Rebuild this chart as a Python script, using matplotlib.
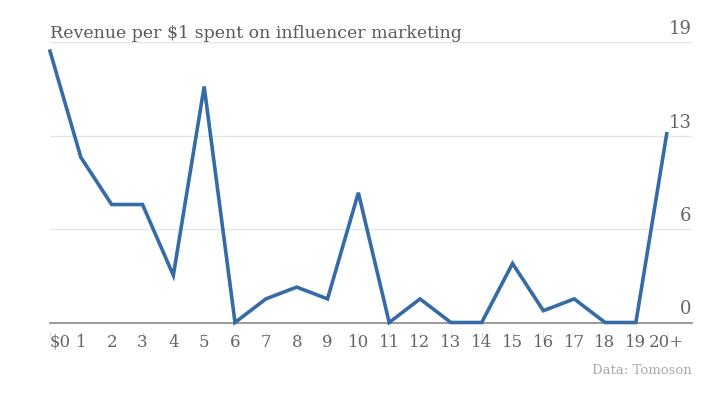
import matplotlib
matplotlib.use("Agg")
import matplotlib.pyplot as plt
from matplotlib.transforms import ScaledTranslation

categories = ["$0", "1", "2", "3", "4", "5", "6", "7", "8", "9", "10",
              "11", "12", "13", "14", "15", "16", "17", "18", "19", "20+"]
revenue = [18.4, 11.2, 8.0, 8.0, 3.2, 16.0, 0.0, 1.6, 2.4, 1.6, 8.8,
           0.0, 1.6, 0.0, 0.0, 4.0, 0.8, 1.6, 0.0, 0.0, 12.8]
y_ticks = [0, 19 / 3, 38 / 3, 19]
y_tick_labels = ["0", "6", "13", "19"]
title = "Revenue per $1 spent on influencer marketing"
source = "Data: Tomoson"

FONT = "DejaVu Serif"
TXT = "#666666"

fig = plt.figure(figsize=(7.27, 3.98), dpi=100)
ax = fig.add_axes([50 / 727, (398 - 322.5) / 398, (691.7 - 50) / 727, (322.5 - 42.3) / 398])

x = list(range(len(categories)))
ax.plot(x, revenue, color="#356ca5", lw=2.6, solid_joinstyle="miter", clip_on=False, zorder=3)

ax.set_xlim(0, 20.81)
ax.set_ylim(0, 19)

for s in ["top", "right", "left"]:
    ax.spines[s].set_visible(False)
ax.spines["bottom"].set_color("#8a8a8a")
ax.spines["bottom"].set_linewidth(1.2)
ax.spines["bottom"].set_zorder(2)

ax.set_yticks(y_ticks)
ax.set_yticklabels(y_tick_labels)
ax.yaxis.tick_right()
ax.tick_params(axis="y", length=0, pad=0, labelsize=13, labelcolor=TXT)
ax.grid(axis="y", color="#e6e6e6", lw=1.0, zorder=0)
off = ScaledTranslation(0, 3.0 / 72, fig.dpi_scale_trans)
for lab in ax.get_yticklabels():
    lab.set_fontfamily(FONT)
    lab.set_horizontalalignment("right")
    lab.set_verticalalignment("bottom")
    lab.set_transform(lab.get_transform() + off)

ax.set_xticks(x)
ax.set_xticklabels(categories)
ax.tick_params(axis="x", length=4.5, width=0.8, color="#dddddd", pad=3.5,
               labelsize=12, labelcolor=TXT)
for i, lab in enumerate(ax.get_xticklabels()):
    lab.set_fontfamily(FONT)
    if i == 0:
        lab.set_horizontalalignment("left")
for t in ax.xaxis.get_major_ticks():
    t.tick1line.set_transform(t.tick1line.get_transform() + ScaledTranslation(0, -6.5 / 72, fig.dpi_scale_trans))

ax.set_title(title, loc="left", fontsize=12.5, color="#5a5a5a", family=FONT, pad=3)

fig.text(691.7 / 727, (398 - 374) / 398, source, ha="right", va="baseline",
         fontsize=9.5, color="#aaaaaa", family=FONT)

fig.savefig("out.png", dpi=100, facecolor="white")
